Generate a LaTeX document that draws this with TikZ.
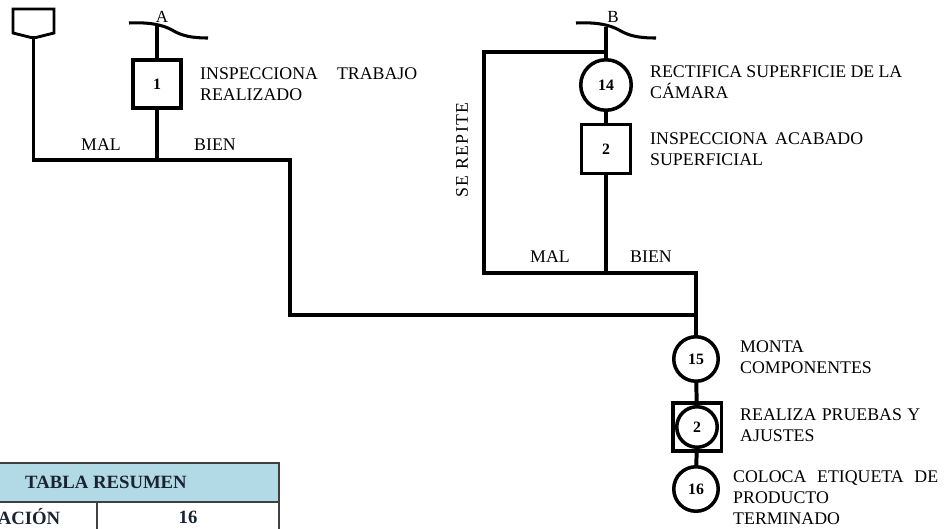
\documentclass[tikz,border=0pt]{standalone}
\usepackage{fontspec}
\setmainfont{Liberation Serif}
\usetikzlibrary{positioning}

\definecolor{hdrblue}{RGB}{178,217,230}
\definecolor{tblink}{RGB}{25,35,50}
\newcommand\txtsize{\fontsize{15.2}{18.2}\selectfont}
\newcommand\numsize{\fontsize{13.5}{16}\selectfont\bfseries}
\newcommand\sk{\kern1.1pt}

\begin{document}
\begin{tikzpicture}[x=0.03cm, y=-0.03cm,
  flow/.style={line width=3.4pt},
  cut/.style={line width=2.6pt},
  oper/.style={circle, draw, line width=3pt, fill=white, inner sep=0pt, font=\numsize},
  insp/.style={rectangle, draw, line width=3pt, fill=white, inner sep=0pt, minimum size=1.455cm, font=\numsize},
  note/.style={anchor=north west, inner sep=0pt, align=left, font=\txtsize},
  cond/.style={anchor=base, inner sep=0pt, font=\txtsize},
  tag/.style={anchor=base, inner sep=0pt, font=\fontsize{14.5}{17}\selectfont},
  cell/.style={draw=black!75, line width=1pt, inner sep=0pt, text=tblink, font=\fontsize{16}{19}\selectfont\bfseries}
]
  \useasboundingbox (0,0) rectangle (945,529);

  % storage symbol (top left)
  \draw[line width=2.4pt] (13,9) -- (54,9) -- (54,33) -- (36,37.5) -- (31,37.5) -- (13,33) -- cycle;
  \coordinate (alm) at (33.5,37.5);

  % cut lines A and B
  \draw[cut] (129,23) .. controls (150,22) and (163,25) .. (172,30) .. controls (182,36) and (192,38) .. (208,38);
  \draw[cut] (576,23) .. controls (597,22) and (610,25) .. (619,30) .. controls (629,36) and (639,38) .. (656,38);
  \node[tag] (la) at (162,22) {A};
  \node[tag] (lb) at (613,22) {B};
  \coordinate (ca) at (157,26);
  \coordinate (cb) at (606,27);

  % activities
  \node[insp] (i1) at (157,84) {1};
  \node[oper, minimum size=1.515cm] (o14) at (606,85) {14};
  \node[insp, minimum size=1.47cm] (i2) at (606,149) {2};
  \node[oper, minimum size=1.335cm] (o15) at (696,359) {15};
  \node[insp] (pr) at (697,427) {};
  \node[oper, minimum size=1.215cm] (pr2) at (pr) {2};
  \node[oper, minimum size=1.335cm] (o16) at (696,489) {16};

  % descriptions
  \node[note] (t1) at (200,67) {\makebox[6.51cm][s]{INSPECCIONA TRABAJO}\\REALIZADO};
  \node[note] (t14) at (650,65) {\makebox[7.56cm][s]{RECTIFICA SUPERFICIE DE LA}\\CÁMARA};
  \node[note] (t2) at (650,132) {\makebox[6.39cm][s]{INSPECCIONA ACABADO}\\SUPERFICIAL};
  \node[note] (t15) at (740,340) {MONTA\\COMPONENTES};
  \node[note] (t2b) at (740,408) {\makebox[5.4cm][s]{REALIZA PRUEBAS Y}\\AJUSTES};
  \node[note] (t16) at (733,470) {\makebox[6.15cm][s]{COLOCA ETIQUETA DE}\\PRODUCTO\\TERMINADO};

  % branch labels
  \node[cond] (mal1) at (101,150) {MAL};
  \node[cond] (bien1) at (215,150) {BIEN};
  \node[cond] (mal2) at (550,262) {MAL};
  \node[cond] (bien2) at (651,262) {BIEN};
  \node[cond, rotate=90, anchor=center] (rep) at (462,150) {S\sk E\sk{} R\sk E\sk P\sk I\sk T\sk E};

  % junctions
  \coordinate (ja) at (157,160);
  \coordinate (jl) at (290,160);
  \coordinate (jr) at (290,315);
  \coordinate (rp) at (606,52);
  \coordinate (jq) at (484,273);
  \coordinate (jm) at (606,273);
  \coordinate (jb) at (696,315);

  % flow lines
  \draw[flow] (alm) |- (jl) -- (jr) -| (o15);
  \draw[flow] (ca) -- (i1) -- (ja);
  \draw[flow] (cb) -- (o14) -- (i2) -- (jm);
  \draw[flow] (rp) -| (jq) -| (jb);
  \draw[flow] (o15) -- (pr) -- (o16);

  % summary table (cut by the page edge)
  \node[cell, fill=hdrblue, minimum width=10.38cm, minimum height=1.17cm] (hdr) at (106,482.5) {TABLA RESUMEN};
  \node[cell, minimum width=5.64cm, minimum height=0.9cm] (cop) at (3,517) {OPERACIÓN};
  \node[cell, minimum width=5.46cm, minimum height=0.9cm] (cnum) at (188,517) {16};
\end{tikzpicture}
\end{document}
